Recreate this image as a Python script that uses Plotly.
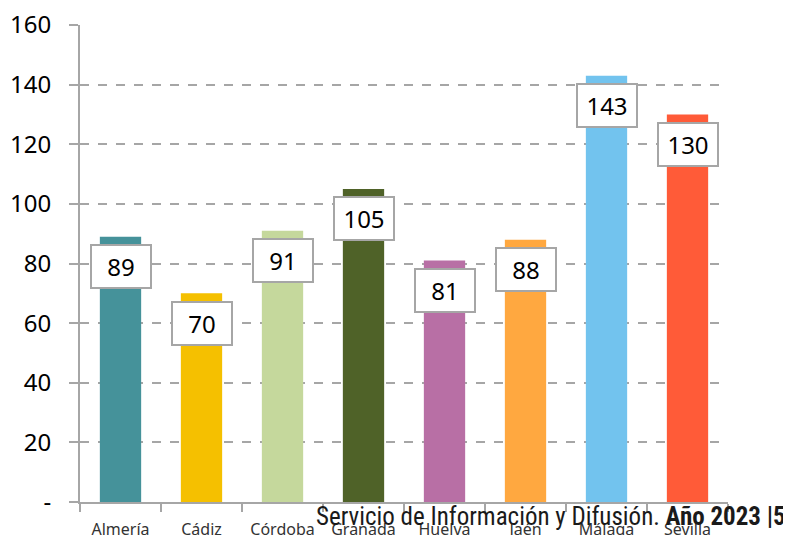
import plotly.graph_objects as go

provincias = ["Almería", "Cádiz", "Córdoba", "Granada", "Huelva", "Jaén", "Málaga", "Sevilla"]
valores = [89, 70, 91, 105, 81, 88, 143, 130]
colores = ["#45929A", "#F5C000", "#C5D89C", "#4F6228", "#B86FA5", "#FFA840", "#72C3EE", "#FF5B38"]

y_ticks = [0, 20, 40, 60, 80, 100, 120, 140, 160]
y_labels = ["-", "20", "40", "60", "80", "100", "120", "140", "160"]

fig = go.Figure()
fig.add_trace(go.Bar(
    x=provincias, y=valores,
    marker=dict(color=colores, line_width=0),
    width=0.51,
    hoverinfo="x+y",
))

# value labels in white boxes, a bit below the top of each bar
for p, v in zip(provincias, valores):
    fig.add_annotation(
        x=p, y=v - 10, text=str(v), showarrow=False,
        font=dict(size=24, color="#000000"),
        bgcolor="white", bordercolor="#A6A6A6", borderwidth=2, borderpad=2,
        width=54, height=37,
    )

fig.add_annotation(
    xref="paper", yref="paper", x=1.093, y=-0.03, xanchor="right", yanchor="middle",
    text="Servicio de Información y Difusión. <b>Año 2023 |5</b>",
    showarrow=False,
    font=dict(size=25, color="#1a1a1a", family="Liberation Sans Narrow, Roboto Condensed, sans-serif"),
)

# page body adds an 8px offset, so margins are trimmed by 8 on left/top
fig.update_layout(
    width=791, height=535,
    margin=dict(l=72, r=71, t=17, b=41, autoexpand=False),
    paper_bgcolor="white", plot_bgcolor="white",
    font=dict(family="Noto Sans, sans-serif", color="#000000"),
    showlegend=False,
    bargap=0.49,
)
fig.update_xaxes(
    automargin=False,
    showline=True, linecolor="#A6A6A6", linewidth=2,
    ticks="outside", ticklen=8, tickcolor="#A6A6A6", tickwidth=2,
    tickson="boundaries",
    tickfont=dict(size=16, color="#333333"),
    ticklabelstandoff=12,
    ticklabeloverflow="allow",
    showgrid=False,
)
fig.update_yaxes(
    automargin=False,
    range=[0, 160], tickvals=y_ticks, ticktext=y_labels,
    showline=True, linecolor="#A6A6A6", linewidth=2,
    ticks="outside", ticklen=9, tickcolor="#A6A6A6", tickwidth=2,
    tickfont=dict(size=24, color="#000000"),
    ticklabelstandoff=13,
    ticklabeloverflow="allow",
    showgrid=True, gridcolor="#A6A6A6", gridwidth=2, griddash="dash",
    zeroline=False,
)

fig.write_html("out.html")
